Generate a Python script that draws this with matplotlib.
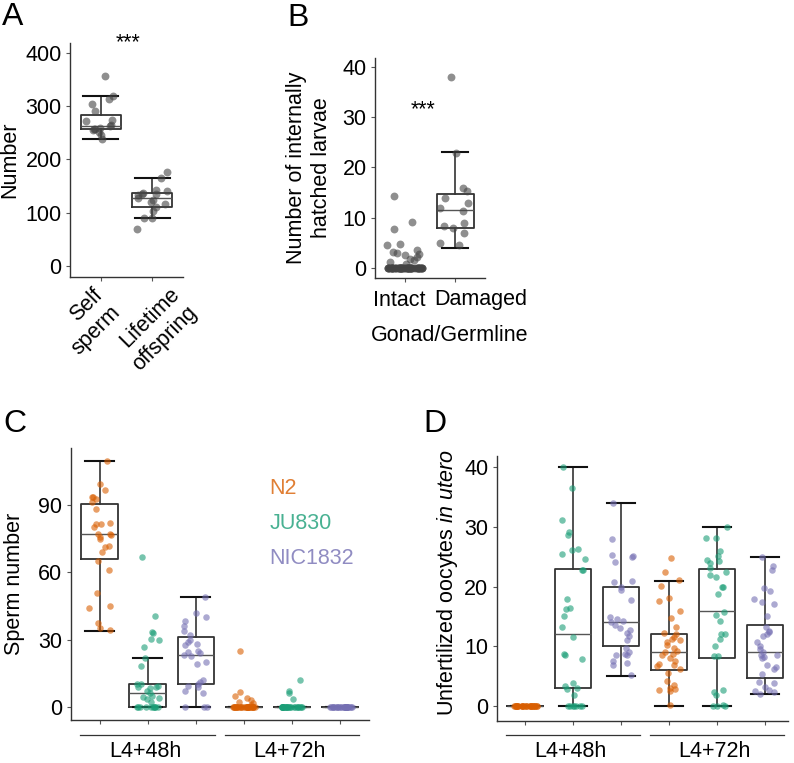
import numpy as np
import matplotlib
matplotlib.use("Agg")
import matplotlib.pyplot as plt
import matplotlib.transforms as mtransforms

plt.rcParams["font.family"] = ["Liberation Sans", "DejaVu Sans"]
plt.rcParams["mathtext.fontset"] = "custom"
plt.rcParams["mathtext.rm"] = "Liberation Sans"
plt.rcParams["mathtext.it"] = "Liberation Sans:italic"

# ---- panel A data ----
a_labels = ["Self\nsperm", "Lifetime\noffspring"]
self_sperm = [357, 320, 313, 305, 292, 275, 273, 265, 262, 260, 258, 258, 255, 252, 246, 238]
lifetime_offspring = [176, 166, 143, 140, 137, 136, 135, 133, 128, 124, 120, 116, 111, 103, 90, 90, 70]
# q1, median, q3, whisker low, whisker high
a_boxes = [(257, 262, 284, 238, 320), (111, 127, 137, 90, 166)]

# ---- panel B data ----
b_labels = ["Intact", "Damaged"]
intact = [14.3, 9.2, 7.8, 4.8, 4.5, 3.5, 3.2, 3.0, 2.7, 2.5, 2.2, 1.8, 1.5, 1.2, 0.8] + [0] * 60
damaged = [38, 22.8, 16.0, 15.3, 14.0, 13.0, 12.0, 11.4, 9.0, 8.3, 8.0, 7.0, 5.0, 4.5]
b_boxes = [(0, 0, 0, 0, 0), (8, 11.5, 14.8, 4, 23)]

# ---- panel C data (sperm number) ----
strains = ["N2", "JU830", "NIC1832"]
timepoints = ["L4+48h", "L4+72h"]
c_n2_48 = [110, 99.4, 97, 93.8, 93.5, 92.7, 91.4, 88.2, 82.1, 81.8, 81.5, 80.4, 77.4, 77, 76.6,
           75.9, 75, 71.9, 71.4, 69.2, 65, 61, 50.9, 45.2, 44, 37.5, 35, 34.2]
c_ju_48 = [67, 40.5, 33.2, 32.8, 30.5, 30, 26.5, 22, 18, 10, 10, 9.5, 9, 9, 8.5, 7, 6, 5, 4.5,
           4, 3.5, 2] + [0] * 10
c_nic_48 = [49, 42, 40, 38.5, 36, 34, 32, 30, 29, 28, 27.5, 25, 24.5, 24, 23, 22.5, 20, 19, 12,
            11, 10, 9.5, 9, 7, 6, 0, 0, 0]
c_n2_72 = [25, 6.5, 5, 4, 3, 2, 1.5, 1] + [0] * 30
c_ju_72 = [12, 7, 6, 3.5] + [0] * 25
c_nic_72 = [0] * 30
c_boxes = [(66, 77, 90.5, 34, 110), (0, 6, 10, 0, 22), (10, 23, 31, 0, 49),
           (0, 0, 0, 0, 0), (0, 0, 0, 0, 0), (0, 0, 0, 0, 0)]

# ---- panel D data (unfertilized oocytes) ----
d_n2_48 = [0] * 30
d_ju_48 = [40, 36.6, 31.2, 29.2, 28.7, 26.3, 26.1, 25.5, 24.6, 22.8, 22.8, 18, 16.4, 16.3, 15.1,
           13.3, 11.5, 8.7, 8.6, 7.8, 3.9, 3.3, 3.0, 2.8, 1.8, 0, 0, 0, 0, 0, 0, 0]
d_nic_48 = [34, 28, 25.3, 25.2, 25, 24.2, 21, 20.8, 20, 19.4, 17.8, 15, 14.5, 14.3, 14, 13.6, 13,
            12.8, 12.2, 11.8, 11, 9.8, 9, 8.8, 8.5, 8.5, 7.5, 7.2, 6.8, 5.2]
d_n2_72 = [24.8, 22.5, 21.2, 20.1, 18.1, 17.6, 16, 14.8, 13.2, 12.2, 12, 11.6, 11.2, 11, 10.7,
           10.3, 9.8, 9.2, 9, 8.8, 8.5, 8, 7.5, 7, 6.8, 6.7, 6.2, 5.5, 4.2, 3.5, 3, 2.8, 2.7,
           2.6, 0.1]
d_ju_72 = [30, 28.2, 28.1, 26, 25.2, 24.5, 24.3, 24, 23.1, 22.5, 22, 21.7, 20, 19.9, 18.7, 15.8,
           15.3, 14.3, 12, 12, 11.3, 10, 8.3, 8.3, 2.7, 2.3, 1.8, 0.2, 0, 0, 0]
d_nic_72 = [25, 23.4, 22.8, 19.8, 19.2, 18, 17.5, 17.1, 15.1, 13.2, 12.5, 12.4, 12, 11.8, 10.8,
            10, 9.6, 9, 8.6, 8.5, 8.2, 8, 6.8, 6.5, 6.2, 5.3, 4, 3.9, 3.2, 2.7, 2.5, 2.3, 2]
d_boxes = [(0, 0, 0, 0, 0), (3, 12, 23, 0, 40), (10, 14, 20, 5, 34),
           (6, 9, 12, 0, 21), (8, 16, 23, 0, 30), (4.75, 9, 13.5, 2, 25)]

strain_colors = ["#D95F02", "#1B9E77", "#7570B3"]
rng = np.random.default_rng(7)

W, H = 794, 763
fig = plt.figure(figsize=(W / 100, H / 100), dpi=100)


def px_axes(left, top, right, bottom):
    return fig.add_axes([left / W, 1 - bottom / H, (right - left) / W, (bottom - top) / H])


def style_axes(ax):
    for s in ["top", "right"]:
        ax.spines[s].set_visible(False)
    for s in ["left", "bottom"]:
        ax.spines[s].set_color("#333333")
        ax.spines[s].set_linewidth(1.0)
    ax.tick_params(direction="out", length=3, width=0.8, color="#555555",
                   labelsize=15.5, pad=3)


def draw_boxes(ax, boxes, positions, width=0.76, capw=0.6):
    stats = [dict(q1=b[0], med=b[1], q3=b[2], whislo=b[3], whishi=b[4], fliers=[])
             for b in boxes]
    ax.bxp(stats, positions=positions, widths=width, capwidths=capw, showfliers=False,
           boxprops=dict(color="#333333", linewidth=1.3),
           medianprops=dict(color="#555555", linewidth=1.0),
           whiskerprops=dict(color="#333333", linewidth=1.2),
           capprops=dict(color="#111111", linewidth=1.5),
           manage_ticks=False, zorder=2)


def draw_points(ax, values, pos, color, spread=0.25, size=22, alpha=0.6):
    x = pos + rng.uniform(-spread, spread, len(values))
    ax.scatter(x, values, s=size, color=color, alpha=alpha, linewidths=0, zorder=3)


# ================= Panel A =================
axA = px_axes(70, 43, 183, 277)
style_axes(axA)
draw_boxes(axA, a_boxes, [1, 2], width=0.78, capw=0.68)
draw_points(axA, self_sperm, 1, "#444444", spread=0.3, size=32)
draw_points(axA, lifetime_offspring, 2, "#444444", spread=0.3, size=32)
axA.set_xlim(0.4, 2.6)
axA.set_ylim(-21, 419)
axA.set_yticks([0, 100, 200, 300, 400])
axA.set_xticks([1, 2])
axA.set_xticklabels([])
tA = mtransforms.blended_transform_factory(axA.transData, axA.transAxes)
for xa, lab in zip([0.83, 2.33], a_labels):
    axA.text(xa, -0.03, lab, transform=tA, rotation=45, rotation_mode="anchor",
             ha="right", va="top", multialignment="right", fontsize=15.5,
             linespacing=1.25, clip_on=False)
axA.set_ylabel("Number", fontsize=15.5, va="center")
axA.yaxis.set_label_coords(-0.53, 0.5)
axA.text(1.53, 420, "***", fontsize=15.5, ha="center", va="center", clip_on=False)

# ================= Panel B =================
axB = px_axes(375, 58, 485, 278)
style_axes(axB)
draw_boxes(axB, b_boxes, [1, 2], width=0.74, capw=0.52)
draw_points(axB, intact, 1, "#444444", spread=0.36, size=32)
draw_points(axB, damaged, 2, "#444444", spread=0.3, size=32)
axB.set_xlim(0.4, 2.6)
axB.set_ylim(-2, 41.8)
axB.set_yticks([0, 10, 20, 30, 40])
axB.set_xticks([1, 2])
axB.set_xticklabels([])
tB = mtransforms.blended_transform_factory(axB.transData, axB.transAxes)
axB.text(0.89, -0.1, b_labels[0], transform=tB, fontsize=15.5, ha="center", va="center")
axB.text(2.52, -0.1, b_labels[1], transform=tB, fontsize=15.5, ha="center", va="center")
axB.text(1.9, -0.26, "Gonad/Germline", transform=tB, fontsize=15.5, ha="center", va="center")
axB.set_ylabel("Number of internally\nhatched larvae", fontsize=15.5, va="center")
axB.yaxis.set_label_coords(-0.6, 0.5)
axB.text(1.36, 31.5, "***", fontsize=15.5, ha="center", va="center")

# ================= Panel C =================
axC = px_axes(70.7, 448, 369, 720)
style_axes(axC)
pos = [1, 2, 3, 4, 5, 6]
draw_boxes(axC, c_boxes, pos)
c_series = [c_n2_48, c_ju_48, c_nic_48, c_n2_72, c_ju_72, c_nic_72]
for i, vals in enumerate(c_series):
    draw_points(axC, vals, pos[i], strain_colors[i % 3])
axC.set_xlim(0.4, 6.6)
axC.set_ylim(-5.9, 115.6)
axC.set_yticks([0, 30, 60, 90])
axC.set_xticks(pos)
axC.set_xticklabels([])
axC.set_ylabel("Sperm number", fontsize=15.5, va="center")
axC.yaxis.set_label_coords(-0.188, 0.5)
for k, (name, yv) in enumerate(zip(strains, [97.6, 82, 66.4])):
    axC.text(4.53, yv, name, color=strain_colors[k], alpha=0.8, fontsize=15.5,
             ha="left", va="center")

# ================= Panel D =================
axD = px_axes(496.7, 456, 788, 720.7)
style_axes(axD)
draw_boxes(axD, d_boxes, pos)
d_series = [d_n2_48, d_ju_48, d_nic_48, d_n2_72, d_ju_72, d_nic_72]
for i, vals in enumerate(d_series):
    draw_points(axD, vals, pos[i], strain_colors[i % 3])
axD.set_xlim(0.41, 6.48)
axD.set_ylim(-2.46, 41.9)
axD.set_yticks([0, 10, 20, 30, 40])
axD.set_xticks(pos)
axD.set_xticklabels([])
axD.set_ylabel("Unfertilized oocytes $\\mathit{in\\ utero}$", fontsize=15.5, va="center")
axD.yaxis.set_label_coords(-0.17, 0.52)

# group underlines + time labels
for ax, yl, yt in [(axC, -0.055, -0.116), (axD, -0.054, -0.116)]:
    tr = mtransforms.blended_transform_factory(ax.transData, ax.transAxes)
    for g, name in enumerate(timepoints):
        c = 2 + 3 * g
        ax.plot([c - 1.4, c + 1.4], [yl, yl], transform=tr, color="#333333",
                linewidth=0.9, clip_on=False)
        ax.text(c - 0.05, yt, name, transform=tr, fontsize=15.5, ha="center", va="center")

# panel letters
for letter, x, y in [("A", 2, 2), ("B", 287, 3), ("C", 3, 409), ("D", 423, 409)]:
    fig.text(x / W, 1 - y / H, letter, fontsize=23, ha="left", va="top")

fig.savefig("out.png", dpi=100)
